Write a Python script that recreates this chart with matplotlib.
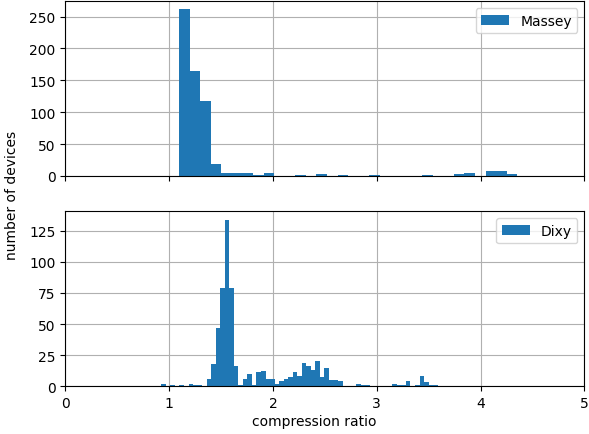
import numpy as np
import matplotlib
matplotlib.use("Agg")
import matplotlib.pyplot as plt

# Massey: 32 bins od 1.095 do 4.354
massey_start = 1.095
massey_stop = 4.354
massey_counts = [261, 165, 118, 18, 5, 5, 4, 2, 5, 0,
                 0, 2, 0, 3, 0, 2, 0, 0, 2, 0,
                 0, 0, 0, 2, 0, 0, 3, 5, 0, 8,
                 7, 3]

# Dixy: 61 bin od 0.925 do 3.587
dixy_start = 0.925
dixy_stop = 3.587
dixy_counts = [2, 0, 1, 0, 1, 0, 2, 1, 1, 0,
               6, 18, 47, 79, 134, 79, 16, 1, 6, 10,
               1, 11, 12, 6, 6, 2, 4, 6, 7, 11,
               8, 19, 16, 13, 20, 7, 15, 5, 5, 4,
               0, 0, 0, 2, 1, 1, 0, 0, 0, 0,
               0, 2, 1, 1, 4, 0, 1, 8, 3, 1,
               1]

series = [("Massey", massey_start, massey_stop, massey_counts),
          ("Dixy", dixy_start, dixy_stop, dixy_counts)]

fig, axes = plt.subplots(2, 1, sharex=True, figsize=(5.89, 4.35), dpi=100)
fig.subplots_adjust(left=0.111, right=0.992, top=0.995, bottom=0.110, hspace=0.203)

for ax, (name, start, stop, counts) in zip(axes, series):
    edges = np.linspace(start, stop, len(counts) + 1)
    ax.hist(edges[:-1], bins=edges, weights=counts, color="#1f77b4", label=name)
    ax.grid(True)
    ax.set_axisbelow(True)
    ax.legend(loc="upper right")

axes[0].set_yticks([0, 50, 100, 150, 200, 250])
axes[1].set_yticks([0, 25, 50, 75, 100, 125])
axes[1].set_xlim(0, 5)
axes[1].set_xlabel("compression ratio")
axes[1].xaxis.set_label_coords(0.48, -0.16)
fig.text(0.021, 0.55, "number of devices", rotation=90, ha="center", va="center")

plt.savefig("out.png", dpi=100)
